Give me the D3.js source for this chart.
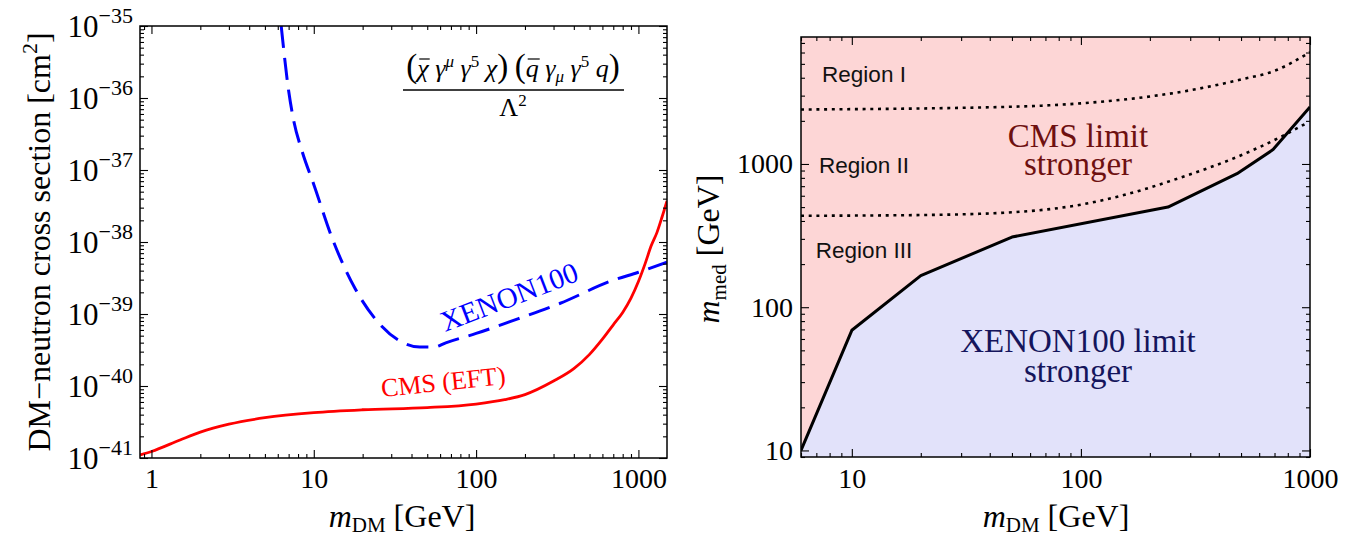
<!DOCTYPE html>
<html>
<head>
<meta charset="utf-8">
<script src="https://cdn.jsdelivr.net/npm/d3@7"></script>
<style>
  body { margin: 0; background: #fff; }
  svg { display: block; }
  text { font-family: "Liberation Serif", "Times New Roman", serif; }
</style>
</head>
<body>
<svg id="chart"></svg>
<script>
// ---- left panel: DM-neutron cross section vs m_DM ----
const cmsMass = [0.85, 1, 1.5, 2, 3, 5, 10, 20, 50, 100, 150, 200, 300, 400, 500, 600, 700, 800, 900, 1000, 1100, 1200, 1300, 1400, 1500];
const cmsSigma = [1.10e-41, 1.23e-41, 1.78e-41, 2.29e-41, 2.95e-41, 3.63e-41, 4.27e-41, 4.68e-41, 5.01e-41, 5.62e-41, 6.46e-41, 7.59e-41,
  1.17e-40, 1.74e-40, 2.75e-40, 4.47e-40, 7.08e-40, 1.05e-39, 1.66e-39, 2.82e-39, 5.01e-39, 8.91e-39, 1.35e-38, 2.24e-38, 3.72e-38];

const xenonMass = [6.3, 7, 7.5, 8.5, 10, 13, 18, 25, 33, 45, 55, 65, 100, 160, 330, 700, 1000, 1500];
const xenonSigma = [1e-35, 1.26e-36, 5.0e-37, 1.78e-37, 6.3e-38, 1.12e-38, 2.24e-39, 7.6e-40, 4.37e-40, 3.47e-40, 3.47e-40, 3.98e-40,
  5.37e-40, 7.76e-40, 1.41e-39, 2.95e-39, 3.8e-39, 5.25e-39];

const leftXTicks = [1, 10, 100, 1000];
const leftYExponents = [-41, -40, -39, -38, -37, -36, -35];

// ---- right panel: m_med vs m_DM ----
const boundaryMass = [6, 10, 20, 50, 240, 480, 690, 1000];
const boundaryMed = [10, 69, 166, 309, 500, 855, 1260, 2500];

const upperDotMass = [6, 50, 100, 200, 300, 500, 700, 1000];
const upperDotMed = [2400, 2510, 2650, 2960, 3270, 3890, 4470, 6030];

const lowerDotMass = [6, 20, 50, 100, 150, 270, 500, 730, 950];
const lowerDotMed = [435, 440, 460, 520, 600, 800, 1150, 1520, 1900];

const rightXTicks = [10, 100, 1000];
const rightYTicks = [10, 100, 1000];
const regionLabels = ["Region I", "Region II", "Region III"];

const W = 1348, H = 536;
const svg = d3.select("#chart").attr("width", W).attr("height", H);
svg.append("rect").attr("width", W).attr("height", H).attr("fill", "#fff");

// minor ticks 2..9 for each decade inside a domain
function minorTicks(domain) {
  const out = [];
  const lo = Math.floor(Math.log10(domain[0])), hi = Math.ceil(Math.log10(domain[1]));
  for (let e = lo; e <= hi; e++) {
    for (let k = 2; k <= 9; k++) {
      const v = k * Math.pow(10, e);
      if (v >= domain[0] && v <= domain[1]) out.push(v);
    }
  }
  return out;
}

// ticks on all four sides, pointing inward, plus frame
function drawFrame(g, x, y, xMajor, yMajor) {
  const [x0, x1] = x.range();
  const [y0, y1] = y.range();
  const xMinor = minorTicks(x.domain());
  const yMinor = minorTicks(y.domain());
  const parts = [
    [d3.axisBottom(x), `translate(0,${y0})`, xMajor, xMinor],
    [d3.axisTop(x), `translate(0,${y1})`, xMajor, xMinor],
    [d3.axisLeft(y), `translate(${x0},0)`, yMajor, yMinor],
    [d3.axisRight(y), `translate(${x1},0)`, yMajor, yMinor]
  ];
  parts.forEach(([ax, tr, major, minor]) => {
    const gMaj = g.append("g").attr("transform", tr)
      .call(ax.tickValues(major).tickSize(-8).tickFormat(""));
    const gMin = g.append("g").attr("transform", tr)
      .call(ax.tickValues(minor).tickSize(-4).tickFormat(""));
    [gMaj, gMin].forEach(s => {
      s.select(".domain").remove();
      s.selectAll("line").attr("stroke", "#000").attr("stroke-width", 1.1);
    });
  });
  g.append("rect")
    .attr("x", x0).attr("y", y1)
    .attr("width", x1 - x0).attr("height", y0 - y1)
    .attr("fill", "none").attr("stroke", "#000").attr("stroke-width", 1.5);
}

function xTitle(g, cx, by) {
  const t = g.append("text").attr("x", cx).attr("y", by)
    .attr("text-anchor", "middle").attr("font-size", 32);
  t.append("tspan").attr("font-style", "italic").text("m");
  t.append("tspan").attr("font-size", 21).attr("dy", 5).text("DM");
  t.append("tspan").attr("dy", -5).text(" [GeV]");
}

// ================= LEFT PANEL =================
const xL = d3.scaleLog().domain([0.85, 1500]).range([140, 667]);
const yL = d3.scaleLog().domain([1e-41, 1e-35]).range([458, 26]);

const left = svg.append("g");
left.append("clipPath").attr("id", "clipL").append("rect")
  .attr("x", 140).attr("y", 26).attr("width", 527).attr("height", 432);

const lineL = d3.line().x(d => xL(d[0])).y(d => yL(d[1])).curve(d3.curveMonotoneX);

left.append("path")
  .datum(xenonMass.map((m, i) => [m, xenonSigma[i]]))
  .attr("d", lineL)
  .attr("clip-path", "url(#clipL)")
  .attr("fill", "none").attr("stroke", "#0000ff")
  .attr("stroke-width", 3).attr("stroke-dasharray", "22,10");

left.append("path")
  .datum(cmsMass.map((m, i) => [m, cmsSigma[i]]))
  .attr("d", lineL)
  .attr("clip-path", "url(#clipL)")
  .attr("fill", "none").attr("stroke", "#ff0000")
  .attr("stroke-width", 2.8);

drawFrame(left, xL, yL, leftXTicks, leftYExponents.map(e => Math.pow(10, e)));

// x tick labels
const gxl = left.append("g").attr("transform", "translate(0,458)")
  .call(d3.axisBottom(xL).tickValues(leftXTicks).tickSize(0).tickPadding(10).tickFormat(d3.format("d")));
gxl.select(".domain").remove();
gxl.attr("font-size", 28).attr("font-family", "Liberation Serif, serif");

// y tick labels 10^n
const gyl = left.append("g").attr("transform", "translate(140,0)")
  .call(d3.axisLeft(yL).tickValues(leftYExponents.map(e => Math.pow(10, e))).tickSize(0).tickPadding(7).tickFormat(""));
gyl.select(".domain").remove();
gyl.attr("font-family", "Liberation Serif, serif");
gyl.selectAll(".tick text").each(function (d, i) {
  const t = d3.select(this).attr("font-size", 31).attr("dy", "0.34em");
  t.append("tspan").text("10");
  t.append("tspan").attr("font-size", 22).attr("dy", -14).text("\u2212" + Math.abs(leftYExponents[i]));
});

// axis titles
xTitle(left, 402, 527);
const ytl = left.append("text")
  .attr("transform", "translate(50,242) rotate(-90)")
  .attr("text-anchor", "middle").attr("font-size", 32);
ytl.append("tspan").text("DM\u2212neutron cross section [cm");
ytl.append("tspan").attr("font-size", 22).attr("dy", -13).text("2");
ytl.append("tspan").attr("dy", 13).text("]");

// curve labels
left.append("text").attr("transform", "translate(445,332) rotate(-21)")
  .attr("font-size", 29).attr("fill", "#0000ff").text("XENON100");
left.append("text").attr("transform", "translate(382,397) rotate(-6)")
  .attr("font-size", 26).attr("fill", "#ff0000").text("CMS (EFT)");

// operator formula
const pieces = [
  { s: "(", size: 33 },
  { s: "\u03c7", it: 1, bar: 1 }, { s: " " },
  { s: "\u03b3", it: 1 }, { s: "\u03bc", it: 1, sh: -10, size: 17 }, { s: " " },
  { s: "\u03b3", it: 1 }, { s: "5", sh: -10, size: 17 }, { s: " " },
  { s: "\u03c7", it: 1 }, { s: ")", size: 33 }, { s: " " },
  { s: "(", size: 33 },
  { s: "q", it: 1, bar: 1 }, { s: " " },
  { s: "\u03b3", it: 1 }, { s: "\u03bc", it: 1, sh: 5, size: 17 }, { s: " " },
  { s: "\u03b3", it: 1 }, { s: "5", sh: -10, size: 17 }, { s: " " },
  { s: "q", it: 1 }, { s: ")", size: 33 }
];
const num = left.append("text").attr("x", 513).attr("y", 77)
  .attr("text-anchor", "middle").attr("font-size", 26)
  .style("white-space", "pre");
let prev = 0;
pieces.forEach(p => {
  const sh = p.sh || 0;
  const ts = num.append("tspan").text(p.s).attr("dy", sh - prev);
  prev = sh;
  if (p.it) ts.attr("font-style", "italic");
  if (p.size) ts.attr("font-size", p.size);
});
// overbars over chi and q
const node = num.node();
let idx = 0;
pieces.forEach(p => {
  if (p.bar) {
    const a = node.getStartPositionOfChar(idx).x;
    const b = node.getEndPositionOfChar(idx).x;
    left.append("line").attr("x1", a + 2).attr("x2", b + 1).attr("y1", 59).attr("y2", 59)
      .attr("stroke", "#000").attr("stroke-width", 1.2);
  }
  idx += p.s.length;
});
left.append("line").attr("x1", 403).attr("x2", 624).attr("y1", 90).attr("y2", 90)
  .attr("stroke", "#000").attr("stroke-width", 1.3);
const den = left.append("text").attr("x", 513).attr("y", 116)
  .attr("text-anchor", "middle").attr("font-size", 26);
den.append("tspan").text("\u039b");
den.append("tspan").attr("font-size", 17).attr("dy", -10).text("2");

// ================= RIGHT PANEL =================
const xR = d3.scaleLog().domain([6, 1000]).range([801, 1310]);
const yR = d3.scaleLog().domain([9, 7700]).range([457, 37]);

const right = svg.append("g");
right.append("clipPath").attr("id", "clipR").append("rect")
  .attr("x", 801).attr("y", 37).attr("width", 509).attr("height", 420);

right.append("rect").attr("x", 801).attr("y", 37).attr("width", 509).attr("height", 420)
  .attr("fill", "#fdd6d6");

const boundary = boundaryMass.map((m, i) => [m, boundaryMed[i]]);
right.append("path").datum(boundary)
  .attr("clip-path", "url(#clipR)")
  .attr("d", d3.area().x(d => xR(d[0])).y0(457).y1(d => yR(d[1])))
  .attr("fill", "#e2e2fa");

const lineR = d3.line().x(d => xR(d[0])).y(d => yR(d[1]));
const lineRs = d3.line().x(d => xR(d[0])).y(d => yR(d[1])).curve(d3.curveMonotoneX);

[[upperDotMass, upperDotMed], [lowerDotMass, lowerDotMed]].forEach(([ms, vs]) => {
  right.append("path").datum(ms.map((m, i) => [m, vs[i]]))
    .attr("clip-path", "url(#clipR)")
    .attr("d", lineRs)
    .attr("fill", "none").attr("stroke", "#000")
    .attr("stroke-width", 2.6).attr("stroke-dasharray", "3,4.7");
});

right.append("path").datum(boundary)
  .attr("clip-path", "url(#clipR)")
  .attr("d", lineR)
  .attr("fill", "none").attr("stroke", "#000")
  .attr("stroke-width", 3).attr("stroke-linejoin", "round");

drawFrame(right, xR, yR, rightXTicks, rightYTicks);

const gxr = right.append("g").attr("transform", "translate(0,457)")
  .call(d3.axisBottom(xR).tickValues(rightXTicks).tickSize(0).tickPadding(11).tickFormat(d3.format("d")));
gxr.select(".domain").remove();
gxr.attr("font-size", 28).attr("font-family", "Liberation Serif, serif");

const gyr = right.append("g").attr("transform", "translate(801,0)")
  .call(d3.axisLeft(yR).tickValues(rightYTicks).tickSize(0).tickPadding(8).tickFormat(d3.format("d")));
gyr.select(".domain").remove();
gyr.attr("font-size", 28).attr("font-family", "Liberation Serif, serif");

xTitle(right, 1056, 527);
const ytr = right.append("text")
  .attr("transform", "translate(719,249) rotate(-90)")
  .attr("text-anchor", "middle").attr("font-size", 32);
ytr.append("tspan").attr("font-style", "italic").text("m");
ytr.append("tspan").attr("font-size", 21).attr("dy", 7).text("med");
ytr.append("tspan").attr("dy", -7).text(" [GeV]");

// region labels
const regionY = [82, 173, 258];
regionLabels.forEach((r, i) => {
  right.append("text").attr("x", 864).attr("y", regionY[i])
    .attr("text-anchor", "middle")
    .style("font-family", "'Liberation Sans', Arial, sans-serif")
    .attr("font-size", 22.5).attr("fill", "#111").text(r);
});

// big region notes
[["CMS limit", 147], ["stronger", 175]].forEach(([s, y]) => {
  right.append("text").attr("x", 1078).attr("y", y).attr("text-anchor", "middle")
    .attr("font-size", 33).attr("fill", "#6e1010").text(s);
});
[["XENON100 limit", 352], ["stronger", 382]].forEach(([s, y]) => {
  right.append("text").attr("x", 1078).attr("y", y).attr("text-anchor", "middle")
    .attr("font-size", 33).attr("fill", "#15155c").text(s);
});
</script>
</body>
</html>
